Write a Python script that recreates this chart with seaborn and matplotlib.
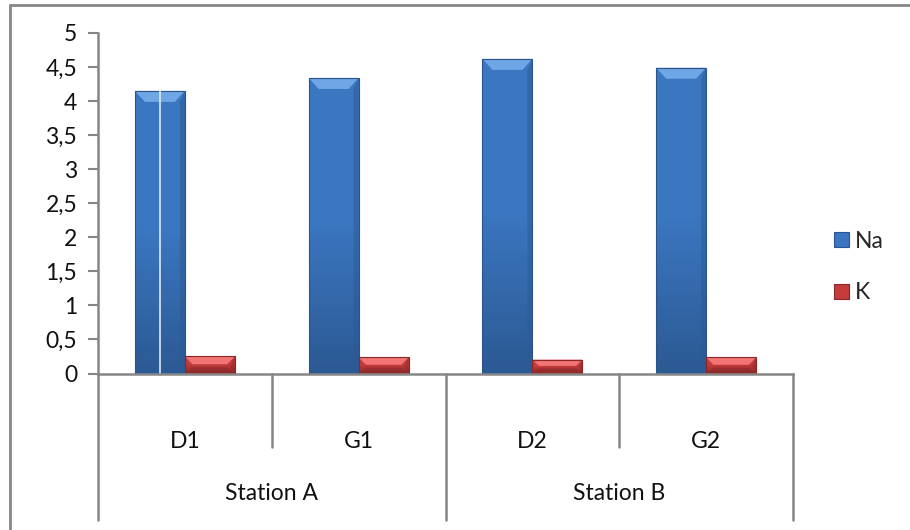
import numpy as np
import pandas as pd
import matplotlib
matplotlib.use("Agg")
import matplotlib.pyplot as plt
from matplotlib.patches import Polygon, Rectangle
from matplotlib.lines import Line2D
import seaborn as sns

# Sodium and potassium concentrations per sampling site
sites = ["D1", "G1", "D2", "G2"]
stations = ["Station A", "Station B"]
na_values = [4.15, 4.34, 4.62, 4.49]
k_values = [0.25, 0.235, 0.205, 0.235]
elements = ["Na", "K"]
y_ticks = [0, 0.5, 1, 1.5, 2, 2.5, 3, 3.5, 4, 4.5, 5]

df = pd.DataFrame({
    "site": sites * 2,
    "element": ["Na"] * len(sites) + ["K"] * len(sites),
    "value": na_values + k_values,
})

sns.set_theme(style="white")
plt.rcParams["font.family"] = ["Lato", "DejaVu Sans"]
FS = 16.5

W, H, DPI = 910, 530, 100
fig = plt.figure(figsize=(W / DPI, H / DPI), dpi=DPI)
ax_l, ax_r, ax_b, ax_t = 98, 793, 373.5, 33
ax = fig.add_axes([ax_l / W, 1 - ax_b / H, (ax_r - ax_l) / W, (ax_b - ax_t) / H])

main = {"Na": "#3b76c0", "K": "#c43c3c"}
light = {"Na": "#6fa6e6", "K": "#f27474"}
dark = {"Na": "#2c5a94", "K": "#8f2a2a"}
edge = {"Na": "#2a548a", "K": "#8a2626"}

sns.barplot(data=df, x="site", y="value", hue="element", order=sites,
            hue_order=elements, palette=main, width=0.575, saturation=1,
            edgecolor="none", linewidth=0, legend=False, ax=ax)

ax.set_xlim(-0.5, len(sites) - 0.5)
ax.set_ylim(0, 5)
ax.set_yticks(y_ticks)
ax.set_yticklabels([f"{t:g}".replace(".", ",") for t in y_ticks], fontsize=FS,
                   color="#111111")
ax.set_xticks([])
ax.set_xlabel("")
ax.set_ylabel("")
ax.tick_params(axis="y", length=7, width=1.5, color="#868686", pad=8, left=True)
for s in ["top", "right"]:
    ax.spines[s].set_visible(False)
for s in ["left", "bottom"]:
    ax.spines[s].set_color("#868686")
    ax.spines[s].set_linewidth(1.8)

# Bevelled look for each bar
px_x = (ax_r - ax_l) / len(sites)
px_y = (ax_b - ax_t) / 5.0
bars = [p for p in ax.patches if isinstance(p, Rectangle)]
for i, p in enumerate(bars):
    el = elements[i // len(sites)]
    x0, y0 = p.get_x(), p.get_y()
    w, h = p.get_width(), p.get_height()
    x1, y1 = x0 + w, y0 + h
    bx = min(10, h * px_y / 2.2) / px_x
    by = min(11, h * px_y / 2.2) / px_y
    # vertical shading inside the bar
    grad = np.linspace(1, 0, 64).reshape(-1, 1)
    cmap = matplotlib.colors.LinearSegmentedColormap.from_list(
        "g", [dark[el], main[el], main[el]])
    im = ax.imshow(grad, extent=(x0, x1, y0, y1), cmap=cmap, aspect="auto",
                   origin="upper", zorder=2.1, vmin=0, vmax=1)
    im.set_clip_path(p)
    top = Polygon([(x0, y1), (x1, y1), (x1 - bx, y1 - by), (x0 + bx, y1 - by)],
                  closed=True, fc=light[el], ec="none", zorder=2.2)
    bot = Polygon([(x0, y0), (x1, y0), (x1 - bx, y0 + by * 0.8), (x0 + bx, y0 + by * 0.8)],
                  closed=True, fc=dark[el], ec="none", alpha=0.6, zorder=2.2)
    right = Polygon([(x1, y0), (x1, y1), (x1 - bx * 0.5, y1 - by), (x1 - bx * 0.5, y0 + by * 0.8)],
                    closed=True, fc=dark[el], ec="none", alpha=0.5, zorder=2.2)
    ax.add_patch(top)
    ax.add_patch(bot)
    ax.add_patch(right)
    ax.add_patch(Rectangle((x0, y0), w, h, fc="none", ec=edge[el], lw=0.8, zorder=2.3))

# thin highlight line through the first bar
first = bars[0]
ax.plot([first.get_x() + first.get_width() / 2] * 2, [0, first.get_height()],
        color="#dfe8f5", lw=1.2, zorder=2.4)

ax.set_xlim(-0.5, len(sites) - 0.5)
ax.set_ylim(0, 5)

# Two-level category axis
trans = ax.get_xaxis_transform()
sep_short = (ax_b - 447) / (ax_b - ax_t)
sep_long = (ax_b - 520) / (ax_b - ax_t)
for j in range(len(sites) + 1):
    bottom = sep_long if j % 2 == 0 else sep_short
    ax.plot([j - 0.5, j - 0.5], [0, bottom], transform=trans, color="#868686",
            lw=1.8, clip_on=False, zorder=1)
for j, s in enumerate(sites):
    ax.text(j, (ax_b - 441) / (ax_b - ax_t), s, transform=trans, ha="center",
            va="center", fontsize=FS, color="#111111")
for j, st in enumerate(stations):
    ax.text(2 * j + 0.5, (ax_b - 493) / (ax_b - ax_t), st, transform=trans,
            ha="center", va="center", fontsize=FS, color="#111111")

# Legend
handles = [Rectangle((0, 0), 1, 1, fc=main[e], ec=edge[e], lw=0.8) for e in elements]
fig.legend(handles, elements, loc="center left", bbox_to_anchor=(823 / W, 1 - 267 / H),
           frameon=False, fontsize=FS, handlelength=0.65, handleheight=0.65,
           handletextpad=0.25, labelspacing=1.35, borderpad=0)

# Outer frame
fig.add_artist(Line2D([10 / W, 10 / W], [0, 1 - 5 / H], color="#868686", lw=2))
fig.add_artist(Line2D([10 / W, 1], [1 - 5 / H, 1 - 5 / H], color="#868686", lw=2))

fig.savefig("out.png", dpi=DPI, facecolor="white")
